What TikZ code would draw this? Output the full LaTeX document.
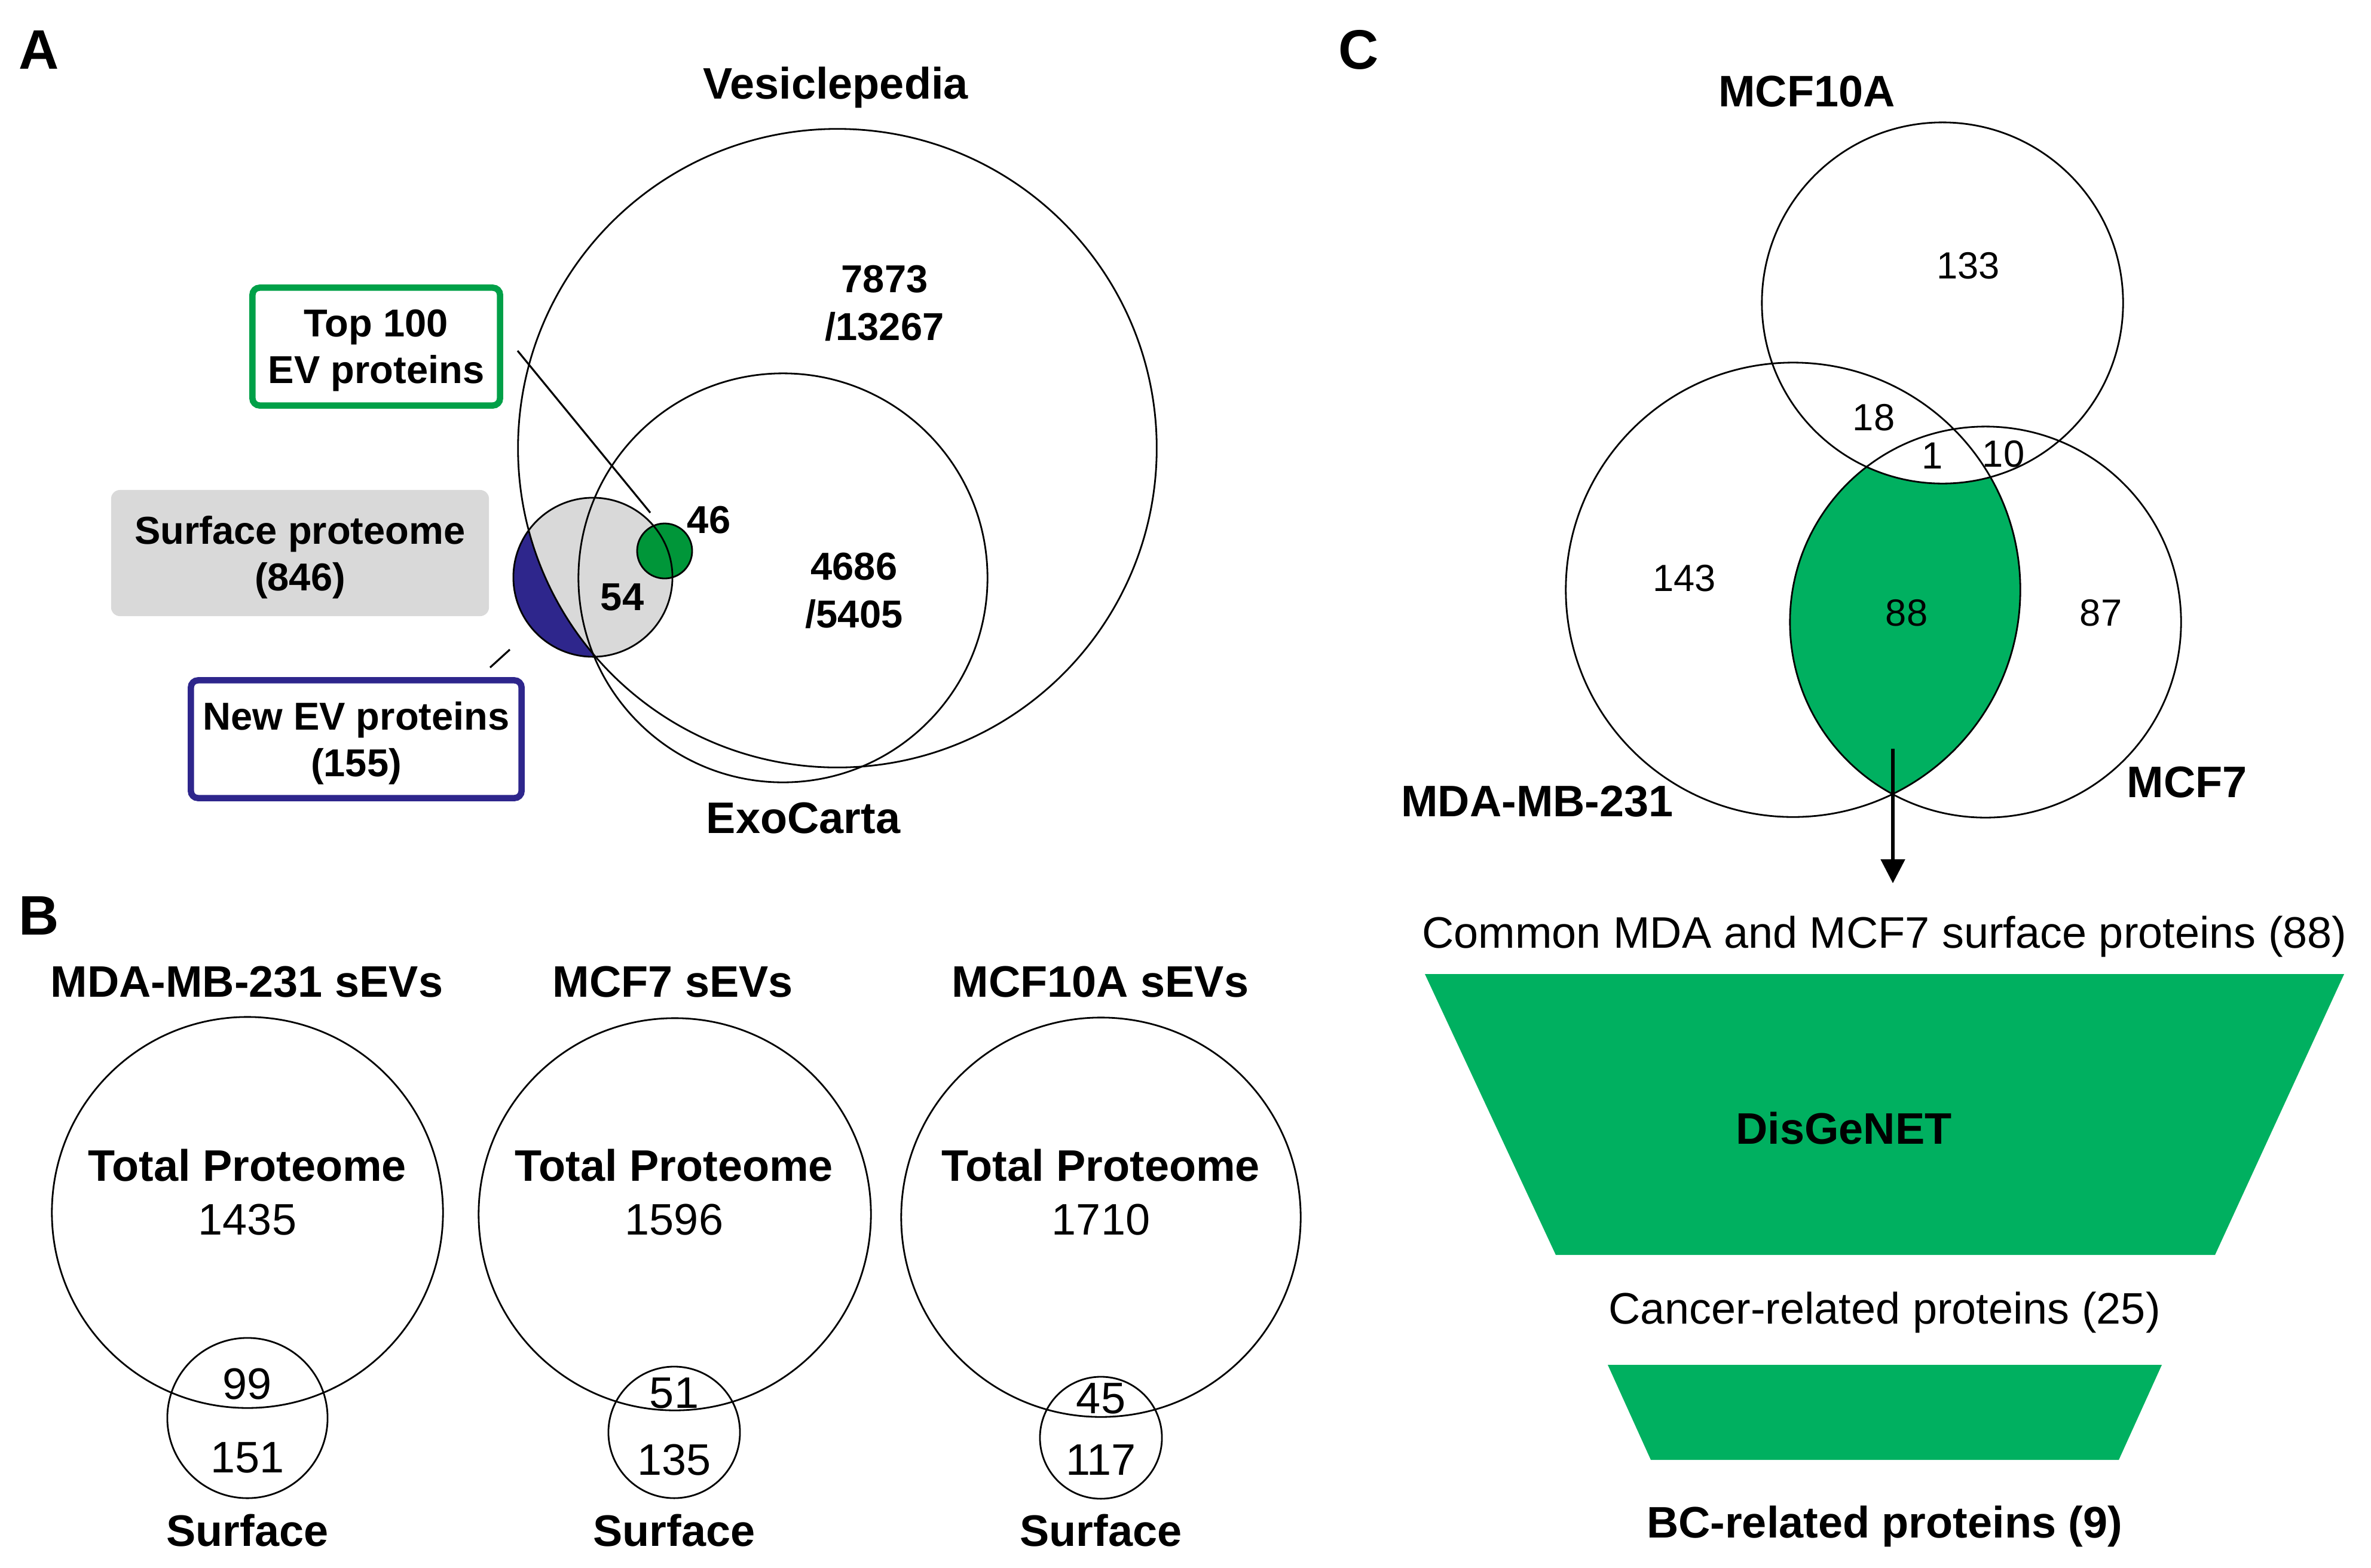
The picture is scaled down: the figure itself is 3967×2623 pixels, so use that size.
\documentclass[tikz,border=0pt]{standalone}
\usepackage{fontspec}
\setmainfont{Liberation Sans}
\usetikzlibrary{arrows.meta}
\definecolor{gA}{RGB}{0,150,57}
\definecolor{gBox}{RGB}{0,160,72}
\definecolor{navyc}{RGB}{46,38,140}
\definecolor{lgray}{RGB}{217,217,217}
\definecolor{fgreen}{RGB}{0,176,96}
\begin{document}
\begin{tikzpicture}[x=0.01cm, y=-0.01cm,
  every node/.style={inner sep=0pt, text depth=0pt},
  ven/.style={draw=black, line width=0.8pt},
  ptr/.style={draw=black, line width=0.9pt},
  boldbig/.style={font=\fontsize{21}{25}\selectfont\bfseries},
  regbig/.style={font=\fontsize{21}{25}\selectfont},
  boldsmall/.style={font=\fontsize{18.5}{22.2}\selectfont\bfseries},
  regsmall/.style={font=\fontsize{18}{22}\selectfont},
  panel/.style={font=\fontsize{26.5}{30}\selectfont\bfseries},
  abox/.style={rounded corners=0.12cm, line width=3pt, align=center, boldsmall, fill=white},
]
\useasboundingbox (0,0) rectangle (3967,2623);
\fill[white] (0,0) rectangle (3967,2623);

% ---------- panel labels
\node[panel] (labA) at (65,83) {A};
\node[panel] (labB) at (65,1532) {B};
\node[panel] (labC) at (2273,83) {C};

% ---------- Panel A
\coordinate (vesC) at (1401,750);
\coordinate (exoC) at (1310,967);
\coordinate (surfC) at (992,966);
\coordinate (topC) at (1112,922);

\fill[lgray] (surfC) circle[radius=1.33cm];
\begin{scope}
  \clip (surfC) circle[radius=1.33cm];
  \fill[navyc, even odd rule] (0,0) rectangle (3967,2623) (vesC) circle[radius=5.34cm];
\end{scope}
\fill[gA] (topC) circle[radius=0.46cm];
\draw[ven] (topC) circle[radius=0.46cm];
\draw[ven] (surfC) circle[radius=1.33cm];
\draw[ven] (vesC) circle[radius=5.34cm];
\draw[ven] (exoC) circle[radius=3.42cm];

\node[boldbig] (vesL) at (1398,139) {Vesiclepedia};
\node[boldbig] (exoL) at (1344,1369) {ExoCarta};
\node[boldsmall] (n7873) at (1480,467) {7873};
\node[boldsmall] (n13267) at (1480,546) {/13267};
\node[boldsmall] (n4686) at (1429,948) {4686};
\node[boldsmall] (n5405) at (1429,1027) {/5405};
\node[boldsmall] (n46) at (1186,870) {46};
\node[boldsmall] (n54) at (1041,999) {54};

\node[abox, draw=gBox, minimum width=4.14cm, minimum height=1.97cm] (top100) at (629.5,580) {Top 100\\EV proteins};
\node[boldsmall, fill=lgray, rounded corners=0.15cm, minimum width=6.32cm, minimum height=2.11cm, align=center] (surfbox) at (502,925.5) {Surface proteome\\(846)};
\node[abox, draw=navyc, minimum width=5.53cm, minimum height=1.97cm] (newev) at (596,1237) {New EV proteins\\(155)};

\coordinate (t1) at (866,587);
\coordinate (t2) at (1088,858);
\coordinate (e1) at (853,1087);
\coordinate (e2) at (820,1117);
\draw[ptr] (t1) -- (t2);
\draw[ptr] (e1) -- (e2);

% ---------- Panel B
\node[boldbig] (tB1) at (413,1643) {MDA-MB-231 sEVs};
\node[boldbig] (tB2) at (1126,1643) {MCF7 sEVs};
\node[boldbig] (tB3) at (1841,1643) {MCF10A sEVs};

\draw[ven] (414,2029) circle[radius=3.27cm];
\draw[ven] (414,2373) circle[radius=1.34cm];
\draw[ven] (1129,2032) circle[radius=3.28cm];
\draw[ven] (1128,2397) circle[radius=1.10cm];
\draw[ven] (1842,2037) circle[radius=3.34cm];
\draw[ven] (1842,2406) circle[radius=1.02cm];

\node[boldbig] (tp1) at (414,1950) {Total Proteome};
\node[regbig] (tn1) at (414,2041) {1435};
\node[regbig] (s1a) at (414,2316) {99};
\node[regbig] (s1b) at (414,2439) {151};
\node[boldbig] (sf1) at (414,2561) {Surface};

\node[boldbig] (tp2) at (1128,1950) {Total Proteome};
\node[regbig] (tn2) at (1128,2041) {1596};
\node[regbig] (s2a) at (1128,2331) {51};
\node[regbig] (s2b) at (1128,2443) {135};
\node[boldbig] (sf2) at (1128,2561) {Surface};

\node[boldbig] (tp3) at (1842,1950) {Total Proteome};
\node[regbig] (tn3) at (1842,2041) {1710};
\node[regbig] (s3a) at (1842,2340) {45};
\node[regbig] (s3b) at (1842,2443) {117};
\node[boldbig] (sf3) at (1842,2561) {Surface};

% ---------- Panel C
\coordinate (c10) at (3250,507);
\coordinate (cMDA) at (3000,987);
\coordinate (c7) at (3322,1041);
\begin{scope}
  \clip (cMDA) circle[radius=3.80cm];
  \clip (c7) circle[radius=3.27cm];
  \fill[fgreen, even odd rule] (0,0) rectangle (3967,2623) (c10) circle[radius=3.02cm];
\end{scope}
\draw[ven] (c10) circle[radius=3.02cm];
\draw[ven] (cMDA) circle[radius=3.80cm];
\draw[ven] (c7) circle[radius=3.27cm];

\node[boldbig] (lMCF10A) at (3023,153) {MCF10A};
\node[boldbig] (lMDA) at (2572,1341) {MDA-MB-231};
\node[boldbig] (lMCF7) at (3659,1309) {MCF7};
\node[regsmall] (v133) at (3293,444) {133};
\node[regsmall] (v18) at (3135,698) {18};
\node[regsmall] (v1) at (3233,763) {1};
\node[regsmall] (v10) at (3352,759) {10};
\node[regsmall] (v143) at (2818,967) {143};
\node[regsmall] (v88) at (3190,1025) {88};
\node[regsmall] (v87) at (3515,1025) {87};

\coordinate (arrS) at (3167,1253);
\coordinate (arrE) at (3167,1478);
\draw[line width=1.5pt, -{Triangle[width=0.40cm,length=0.40cm]}] (arrS) -- (arrE);

\node[regbig] (common) at (3153,1560) {Common MDA and MCF7 surface proteins (88)};
\fill[fgreen] (2384,1630) -- (3922,1630) -- (3706,2100) -- (2603,2100) -- cycle;
\node[boldbig] (dis) at (3085,1888) {DisGeNET};
\node[regbig] (cancer) at (3153,2189) {Cancer-related proteins (25)};
\fill[fgreen] (2690,2284) -- (3617,2284) -- (3545,2443) -- (2762,2443) -- cycle;
\node[boldbig] (bc) at (3153,2547) {BC-related proteins (9)};
\end{tikzpicture}
\end{document}
